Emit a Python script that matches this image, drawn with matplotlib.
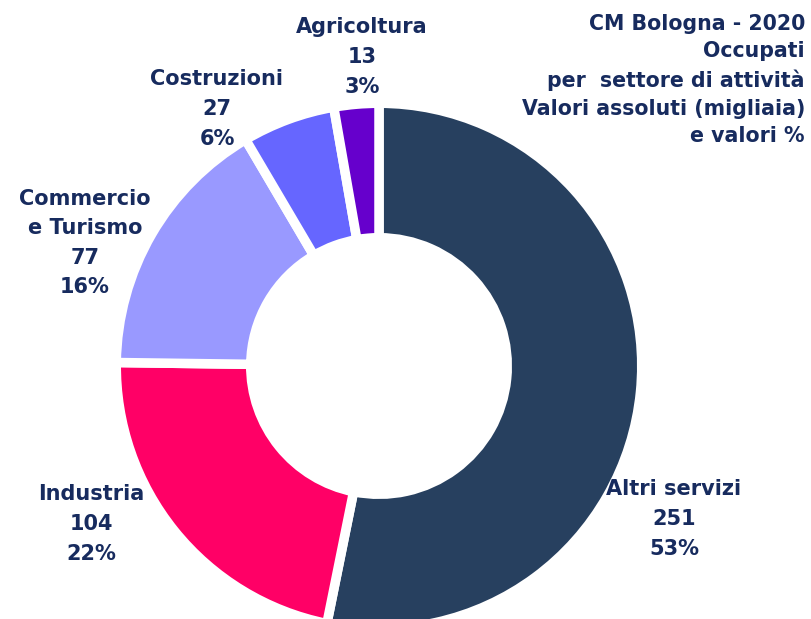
import matplotlib
matplotlib.use("Agg")
import matplotlib.pyplot as plt

sectors = ["Altri servizi", "Industria", "Commercio\ne Turismo", "Costruzioni", "Agricoltura"]
values = [251, 104, 77, 27, 13]
percents = ["53%", "22%", "16%", "6%", "3%"]
colors = ["#27405F", "#FF0066", "#9999FF", "#6666FF", "#6600CC"]
title_lines = ["CM Bologna - 2020", "Occupati", "per  settore di attività",
               "Valori assoluti (migliaia)", "e valori %"]

W, H = 812, 619
fig = plt.figure(figsize=(W / 100, H / 100), dpi=100)
fig.patch.set_facecolor("white")

# axes box in pixels centred on donut center (379, 366), half-size 270
cx, cy, half = 379, 366, 270
ax = fig.add_axes([(cx - half) / W, (H - (cy + half)) / H, 2 * half / W, 2 * half / H])

gap = 9.5  # px
lw = gap * 72 / 100
r_out = 258 + gap / 2
r_in = 133 - gap / 2
ax.pie(values, colors=colors, startangle=90, counterclock=False, radius=r_out,
       wedgeprops=dict(width=r_out - r_in, edgecolor="white", linewidth=lw),
       frame=True)
ax.set_xlim(-half, half)
ax.set_ylim(-half, half)
ax.set_aspect("equal")
ax.axis("off")

txt_color = "#172B5E"
font = dict(family="DejaVu Sans", fontweight="bold", color=txt_color, fontsize=15,
            linespacing=1.6)

label_pos = [(674, 519), (91, 524), (85, 243), (217, 109), (362, 57)]
for name, v, p, (x, y) in zip(sectors, values, percents, label_pos):
    fig.text(x / W, 1 - y / H, f"{name}\n{v}\n{p}", ha="center", va="center", **font)

tfont = dict(font)
tfont.update(fontsize=14.8, linespacing=1.48)
fig.text(805 / W, 1 - 80 / H, "\n".join(title_lines), ha="right", va="center", **tfont)

fig.savefig("out.png", dpi=100, facecolor="white")
